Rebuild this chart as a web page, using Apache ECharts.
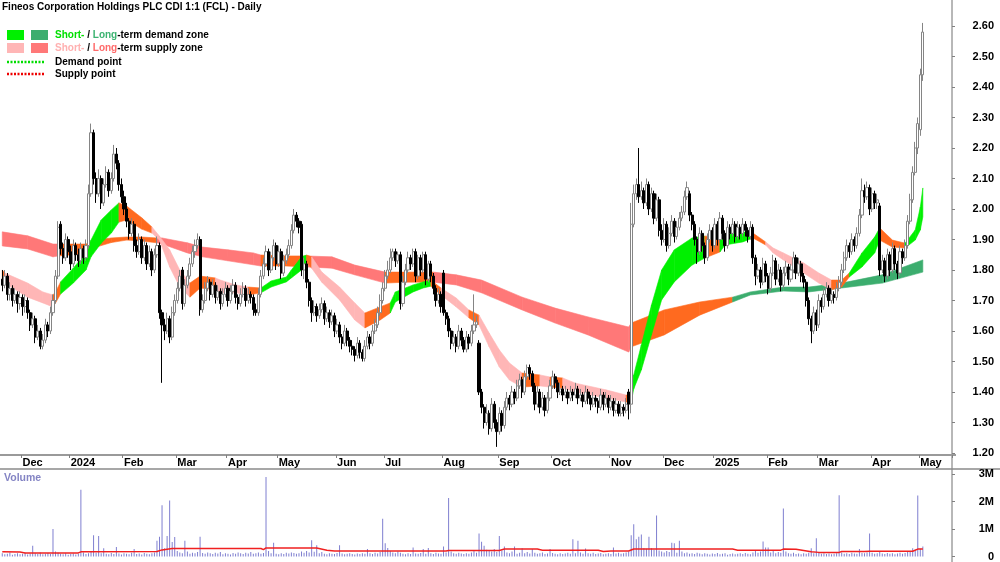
<!DOCTYPE html>
<html><head><meta charset="utf-8">
<script src="https://cdn.jsdelivr.net/npm/echarts@6/dist/echarts.min.js"></script>
<style>html,body{margin:0;padding:0;background:#fff}#c{width:1000px;height:562px}</style>
</head><body><div id="c"></div>
<script>
// ---------- axis / category data ----------
const totalSlots = 375;
const monthLabels = ['Dec','2024','Feb','Mar','Apr','May','Jun','Jul','Aug','Sep','Oct','Nov','Dec','2025','Feb','Mar','Apr','May'];
const monthStart = [8,27,48,69,89,109,132,151,174,196,217,240,261,281,302,322,343,362];
const priceTicks = [1.2,1.3,1.4,1.5,1.6,1.7,1.8,1.9,2.0,2.1,2.2,2.3,2.4,2.5,2.6];

// ---------- daily prices ----------
const openP = [
1.77,1.75,1.78,1.72,1.74,1.70,1.72,1.69,1.71,1.68,
1.70,1.66,1.62,1.64,1.58,1.60,1.55,1.57,1.62,1.60,
1.66,1.70,1.78,1.95,1.87,1.84,1.90,1.86,1.82,1.88,
1.85,1.83,1.87,1.84,1.88,2.05,2.25,2.10,2.05,2.10,
2.02,2.08,2.12,2.06,2.10,2.18,2.15,2.08,2.04,2.00,
1.96,1.92,1.95,1.88,1.86,1.90,1.84,1.88,1.82,1.86,
1.80,1.85,1.88,1.66,1.62,1.60,1.64,1.58,1.66,1.70,
1.74,1.80,1.69,1.75,1.78,1.82,1.86,1.88,1.90,1.67,
1.70,1.74,1.76,1.72,1.75,1.71,1.73,1.69,1.72,1.74,
1.70,1.73,1.75,1.71,1.69,1.72,1.74,1.70,1.72,1.71,
1.67,1.66,1.72,1.78,1.82,1.86,1.80,1.84,1.88,1.82,
1.86,1.79,1.83,1.85,1.88,1.93,1.98,1.96,1.95,1.80,
1.82,1.76,1.70,1.66,1.68,1.65,1.67,1.69,1.64,1.66,
1.63,1.65,1.60,1.62,1.58,1.56,1.60,1.57,1.55,1.54,
1.52,1.56,1.53,1.51,1.55,1.58,1.56,1.60,1.62,1.66,
1.70,1.74,1.78,1.80,1.84,1.86,1.83,1.85,1.69,1.76,
1.80,1.84,1.82,1.86,1.78,1.84,1.80,1.85,1.77,1.82,
1.78,1.74,1.70,1.72,1.79,1.66,1.64,1.60,1.56,1.58,
1.55,1.60,1.57,1.54,1.58,1.56,1.60,1.62,1.56,1.40,
1.35,1.30,1.33,1.28,1.36,1.30,1.27,1.33,1.29,1.35,
1.38,1.36,1.40,1.38,1.42,1.44,1.40,1.45,1.48,1.46,
1.42,1.36,1.40,1.35,1.38,1.34,1.38,1.42,1.45,1.43,
1.40,1.41,1.39,1.40,1.38,1.40,1.39,1.41,1.38,1.39,
1.37,1.40,1.38,1.36,1.38,1.37,1.35,1.39,1.36,1.38,
1.35,1.37,1.34,1.36,1.33,1.35,1.34,1.40,1.36,1.95,
2.05,2.08,2.04,2.06,2.02,2.08,2.00,2.05,1.97,2.03,
1.93,1.90,1.95,1.88,1.92,1.96,1.91,1.94,1.97,1.99,
2.04,2.05,1.98,1.95,1.90,1.86,1.92,1.88,1.84,1.90,
1.93,1.88,1.95,1.90,1.97,1.92,1.88,1.94,1.92,1.95,
1.91,1.94,1.92,1.95,1.93,1.91,1.94,1.84,1.78,1.80,
1.76,1.82,1.78,1.74,1.79,1.83,1.77,1.80,1.75,1.79,
1.81,1.77,1.80,1.84,1.79,1.82,1.78,1.76,1.70,1.64,
1.60,1.66,1.62,1.70,1.68,1.72,1.74,1.70,1.72,1.71,
1.74,1.76,1.80,1.84,1.88,1.86,1.90,1.88,1.92,1.98,
2.06,2.04,2.07,2.00,2.05,2.02,2.01,1.80,1.83,1.78,
1.85,1.80,1.87,1.82,1.79,1.86,1.84,1.88,1.96,2.03,
2.12,2.20,2.26,2.44];
const highP = [
1.80,1.80,1.79,1.76,1.75,1.74,1.73,1.73,1.72,1.72,
1.71,1.67,1.66,1.65,1.62,1.61,1.59,1.64,1.63,1.68,
1.72,1.80,1.96,1.96,1.89,1.92,1.91,1.88,1.90,1.89,
1.87,1.89,1.88,1.90,2.08,2.28,2.26,2.12,2.13,2.11,
2.10,2.14,2.13,2.12,2.21,2.20,2.16,2.10,2.06,2.02,
1.97,1.97,1.96,1.90,1.92,1.91,1.90,1.89,1.88,1.87,
1.87,1.91,1.89,1.67,1.64,1.66,1.65,1.68,1.72,1.76,
1.80,1.81,1.77,1.80,1.84,1.88,1.90,1.92,1.91,1.72,
1.76,1.78,1.77,1.77,1.76,1.75,1.74,1.74,1.76,1.75,
1.75,1.77,1.76,1.72,1.74,1.76,1.75,1.74,1.73,1.72,
1.69,1.74,1.80,1.84,1.88,1.87,1.86,1.90,1.89,1.88,
1.87,1.85,1.87,1.90,1.95,2.00,1.99,1.97,1.96,1.84,
1.83,1.77,1.71,1.70,1.69,1.69,1.71,1.70,1.68,1.67,
1.67,1.66,1.64,1.63,1.59,1.62,1.61,1.58,1.57,1.55,
1.58,1.57,1.54,1.57,1.60,1.59,1.62,1.64,1.68,1.72,
1.76,1.80,1.83,1.87,1.87,1.87,1.86,1.86,1.78,1.82,
1.86,1.85,1.87,1.87,1.85,1.85,1.86,1.86,1.83,1.83,
1.79,1.75,1.74,1.73,1.80,1.67,1.65,1.61,1.60,1.59,
1.62,1.61,1.58,1.60,1.59,1.62,1.72,1.65,1.57,1.41,
1.36,1.36,1.34,1.38,1.37,1.31,1.35,1.34,1.37,1.40,
1.39,1.42,1.41,1.44,1.46,1.45,1.47,1.49,1.49,1.47,
1.43,1.42,1.41,1.40,1.39,1.40,1.44,1.47,1.46,1.44,
1.43,1.42,1.42,1.41,1.42,1.41,1.43,1.42,1.41,1.40,
1.42,1.41,1.39,1.40,1.39,1.38,1.41,1.40,1.40,1.39,
1.39,1.38,1.38,1.37,1.37,1.36,1.38,1.41,2.02,2.08,
2.10,2.20,2.09,2.07,2.10,2.09,2.07,2.06,2.05,2.04,
1.95,1.97,1.96,1.94,1.98,1.97,1.96,1.99,2.01,2.06,
2.09,2.06,1.99,1.96,1.91,1.94,1.93,1.89,1.92,1.95,
1.94,1.97,1.96,1.99,1.98,1.93,1.96,1.95,1.97,1.96,
1.96,1.95,1.97,1.96,1.94,1.96,1.95,1.85,1.82,1.81,
1.84,1.83,1.79,1.81,1.85,1.84,1.82,1.81,1.81,1.83,
1.82,1.82,1.86,1.85,1.84,1.83,1.79,1.77,1.71,1.65,
1.68,1.67,1.72,1.71,1.74,1.76,1.75,1.74,1.73,1.76,
1.78,1.82,1.86,1.90,1.89,1.92,1.91,1.94,2.00,2.10,
2.08,2.09,2.08,2.07,2.06,2.05,2.02,1.85,1.84,1.87,
1.86,1.89,1.88,1.83,1.88,1.87,1.90,1.98,2.05,2.14,
2.22,2.30,2.46,2.61];
const lowP = [
1.73,1.74,1.70,1.70,1.68,1.69,1.66,1.67,1.65,1.66,
1.64,1.60,1.61,1.56,1.57,1.54,1.54,1.56,1.58,1.59,
1.65,1.69,1.77,1.85,1.82,1.83,1.84,1.80,1.81,1.83,
1.81,1.82,1.82,1.83,1.87,2.04,2.08,2.02,2.04,2.00,
2.01,2.07,2.04,2.05,2.09,2.13,2.06,2.02,1.98,1.94,
1.90,1.91,1.86,1.84,1.85,1.82,1.83,1.80,1.81,1.78,
1.79,1.84,1.64,1.43,1.57,1.59,1.56,1.57,1.65,1.69,
1.73,1.67,1.68,1.74,1.77,1.81,1.84,1.87,1.65,1.66,
1.69,1.73,1.70,1.71,1.69,1.70,1.67,1.68,1.71,1.68,
1.69,1.72,1.69,1.67,1.68,1.71,1.68,1.69,1.69,1.65,
1.65,1.65,1.71,1.77,1.81,1.78,1.79,1.83,1.80,1.81,
1.77,1.78,1.82,1.84,1.87,1.92,1.94,1.92,1.78,1.77,
1.74,1.68,1.63,1.65,1.63,1.64,1.66,1.62,1.63,1.61,
1.62,1.58,1.59,1.56,1.54,1.55,1.55,1.53,1.52,1.50,
1.51,1.51,1.50,1.50,1.54,1.54,1.55,1.59,1.61,1.65,
1.69,1.73,1.77,1.79,1.83,1.81,1.82,1.67,1.68,1.75,
1.79,1.80,1.81,1.76,1.77,1.78,1.79,1.75,1.76,1.76,
1.72,1.68,1.69,1.66,1.65,1.62,1.58,1.54,1.55,1.53,
1.54,1.55,1.53,1.53,1.54,1.55,1.59,1.61,1.39,1.33,
1.28,1.29,1.26,1.27,1.28,1.22,1.26,1.27,1.28,1.34,
1.34,1.35,1.36,1.37,1.41,1.38,1.39,1.44,1.44,1.40,
1.34,1.35,1.33,1.34,1.32,1.33,1.37,1.41,1.41,1.38,
1.39,1.37,1.38,1.36,1.37,1.37,1.38,1.36,1.37,1.35,
1.36,1.36,1.34,1.35,1.35,1.33,1.34,1.34,1.35,1.33,
1.34,1.32,1.33,1.32,1.32,1.32,1.33,1.31,1.33,1.94,
2.03,2.02,2.03,2.00,2.01,1.98,1.99,1.95,1.96,1.91,
1.88,1.89,1.86,1.87,1.91,1.89,1.90,1.93,1.96,1.98,
2.03,1.96,1.93,1.88,1.82,1.85,1.86,1.82,1.83,1.89,
1.86,1.87,1.88,1.89,1.90,1.86,1.87,1.90,1.91,1.89,
1.90,1.90,1.91,1.91,1.89,1.90,1.82,1.75,1.77,1.74,
1.75,1.76,1.72,1.73,1.78,1.75,1.76,1.73,1.74,1.78,
1.75,1.76,1.79,1.77,1.78,1.76,1.74,1.68,1.62,1.56,
1.59,1.60,1.61,1.66,1.67,1.71,1.68,1.69,1.69,1.70,
1.73,1.75,1.79,1.83,1.84,1.85,1.86,1.87,1.91,1.97,
2.02,2.03,1.98,1.99,2.00,2.00,1.78,1.79,1.76,1.77,
1.78,1.79,1.80,1.77,1.78,1.82,1.83,1.87,1.95,2.02,
2.11,2.18,2.24,2.42];
const closeP = [
1.75,1.78,1.72,1.74,1.70,1.72,1.69,1.71,1.68,1.70,
1.66,1.62,1.64,1.58,1.60,1.55,1.57,1.62,1.60,1.66,
1.70,1.78,1.94,1.87,1.84,1.90,1.86,1.82,1.88,1.85,
1.83,1.87,1.84,1.88,2.05,2.25,2.10,2.05,2.10,2.02,
2.08,2.12,2.06,2.10,2.18,2.15,2.08,2.04,2.00,1.96,
1.92,1.95,1.88,1.86,1.90,1.84,1.88,1.82,1.86,1.80,
1.85,1.88,1.66,1.62,1.60,1.64,1.58,1.66,1.70,1.74,
1.78,1.69,1.75,1.78,1.82,1.86,1.88,1.90,1.67,1.70,
1.74,1.76,1.72,1.75,1.71,1.73,1.69,1.72,1.74,1.70,
1.73,1.75,1.71,1.69,1.72,1.74,1.70,1.72,1.71,1.67,
1.66,1.72,1.78,1.82,1.86,1.80,1.84,1.88,1.82,1.86,
1.79,1.83,1.85,1.88,1.93,1.98,1.96,1.94,1.80,1.82,
1.76,1.70,1.66,1.68,1.65,1.67,1.69,1.64,1.66,1.63,
1.65,1.60,1.62,1.58,1.56,1.60,1.57,1.55,1.54,1.52,
1.56,1.53,1.51,1.55,1.58,1.56,1.60,1.62,1.66,1.70,
1.74,1.78,1.80,1.84,1.86,1.83,1.85,1.69,1.76,1.80,
1.84,1.82,1.86,1.78,1.84,1.80,1.85,1.77,1.82,1.78,
1.74,1.70,1.72,1.68,1.66,1.64,1.60,1.56,1.58,1.55,
1.60,1.57,1.54,1.58,1.56,1.60,1.62,1.63,1.40,1.35,
1.30,1.33,1.28,1.36,1.30,1.27,1.33,1.29,1.35,1.38,
1.36,1.40,1.38,1.42,1.44,1.40,1.45,1.48,1.46,1.42,
1.36,1.40,1.35,1.38,1.34,1.38,1.42,1.45,1.43,1.40,
1.41,1.39,1.40,1.38,1.40,1.39,1.41,1.38,1.39,1.37,
1.40,1.38,1.36,1.38,1.37,1.35,1.39,1.36,1.38,1.35,
1.37,1.34,1.36,1.33,1.35,1.34,1.36,1.36,1.95,2.05,
2.08,2.04,2.06,2.02,2.08,2.00,2.05,1.97,2.03,1.93,
1.90,1.95,1.88,1.92,1.96,1.91,1.94,1.97,1.99,2.04,
2.07,1.98,1.95,1.90,1.86,1.92,1.88,1.84,1.90,1.93,
1.88,1.95,1.90,1.97,1.92,1.88,1.94,1.92,1.95,1.91,
1.94,1.92,1.95,1.93,1.91,1.94,1.84,1.78,1.80,1.76,
1.82,1.78,1.74,1.79,1.83,1.77,1.80,1.75,1.79,1.81,
1.77,1.80,1.84,1.79,1.82,1.78,1.76,1.70,1.64,1.60,
1.66,1.62,1.70,1.68,1.72,1.74,1.70,1.72,1.71,1.74,
1.76,1.80,1.84,1.88,1.86,1.90,1.88,1.92,1.98,2.06,
2.04,2.07,2.00,2.05,2.02,2.03,1.80,1.83,1.78,1.85,
1.80,1.87,1.82,1.79,1.86,1.84,1.88,1.96,2.03,2.12,
2.20,2.28,2.44,2.58];

// ---------- volume (millions) ----------
const volM = [
0.12,0.08,0.10,0.15,0.06,0.09,0.12,0.08,0.10,0.14,
0.07,0.11,0.39,0.12,0.09,0.15,0.08,0.10,0.13,0.09,
1.00,0.18,0.14,0.10,0.08,0.12,0.06,0.09,0.11,0.07,
0.10,2.43,0.15,0.09,0.12,0.18,0.77,0.14,0.75,0.12,
0.30,0.10,0.08,0.13,0.09,0.35,0.11,0.07,0.12,0.10,
0.08,0.14,0.27,0.09,0.11,0.07,0.13,0.10,0.08,0.12,
0.15,0.57,0.72,1.86,0.30,0.75,2.04,0.53,0.71,0.20,
0.15,0.12,0.57,0.18,0.10,0.14,0.12,0.16,0.72,0.13,
0.10,0.15,0.12,0.09,0.14,0.11,0.16,0.08,0.12,0.10,
0.07,0.13,0.10,0.15,0.12,0.09,0.14,0.11,0.16,0.10,
0.12,0.15,0.10,0.13,2.89,0.20,0.12,0.50,0.10,0.08,
0.12,0.09,0.14,0.11,0.15,0.13,0.10,0.12,0.18,0.14,
0.20,0.15,0.59,0.17,0.41,0.12,0.16,0.10,0.08,0.12,
0.10,0.09,0.13,0.41,0.11,0.08,0.10,0.12,0.09,0.07,
0.11,0.09,0.12,0.10,0.27,0.12,0.09,0.14,0.11,0.16,
1.37,0.48,0.31,0.20,0.15,0.12,0.18,0.14,0.10,0.08,
0.12,0.09,0.33,0.11,0.10,0.13,0.27,0.10,0.31,0.12,
0.09,0.14,0.11,0.10,0.36,0.15,2.13,0.18,0.12,0.10,
0.14,0.11,0.09,0.12,0.10,0.15,0.20,0.14,0.84,0.54,
0.39,0.25,0.20,0.18,0.27,0.16,0.75,0.22,0.36,0.15,
0.12,0.18,0.36,0.10,0.14,0.30,0.12,0.16,0.11,0.27,
0.14,0.10,0.12,0.15,0.09,0.11,0.27,0.13,0.10,0.08,
0.12,0.09,0.11,0.14,0.10,0.63,0.12,0.57,0.15,0.10,
0.29,0.12,0.10,0.14,0.09,0.11,0.13,0.08,0.10,0.12,
0.09,0.33,0.11,0.14,0.10,0.12,0.15,0.18,0.77,1.17,
0.63,0.72,0.80,0.30,0.28,0.72,0.30,0.25,1.49,0.22,
0.18,0.15,0.20,0.16,0.50,0.48,0.14,0.57,0.18,0.12,
0.15,0.10,0.12,0.09,0.14,0.11,0.08,0.12,0.10,0.07,
0.11,0.09,0.13,0.08,0.10,0.12,0.06,0.09,0.11,0.08,
0.10,0.12,0.09,0.13,0.10,0.08,0.15,0.20,0.14,0.18,
0.55,0.33,0.33,0.15,0.20,0.12,0.16,0.14,1.75,0.18,
0.12,0.10,0.14,0.09,0.11,0.08,0.12,0.10,0.14,0.30,
0.12,0.66,0.15,0.10,0.12,0.09,0.11,0.08,0.10,0.12,
2.23,0.15,0.10,0.12,0.09,0.14,0.11,0.10,0.27,0.13,
0.12,0.15,0.84,0.14,0.10,0.12,0.18,0.11,0.09,0.13,
0.10,0.12,0.08,0.11,0.14,0.10,0.13,0.16,0.20,0.30,
0.25,2.22,0.28,0.36];
const volMaIdx = [0,7,9,30,31,61,63,67,102,103,104,124,128,131,175,176,196,198,211,213,235,237,240,247,249,288,290,307,308,313,319,322,330,331,340,342,359,361,363];
const volMaVal = [0.17,0.16,0.13,0.13,0.17,0.18,0.24,0.29,0.29,0.25,0.31,0.31,0.23,0.20,0.20,0.22,0.22,0.27,0.27,0.23,0.23,0.18,0.20,0.20,0.27,0.27,0.23,0.23,0.27,0.26,0.17,0.15,0.15,0.18,0.18,0.19,0.19,0.27,0.27];

// ---------- zones (0 ST demand, 1 LT demand, 2 ST supply, 3 LT supply, 4 mixed) ----------
const ltIdx = [0,10,20,22,30,33,37,43,49,55,61,63,73,79,89,99,102,112,120,130,139,151,159,170,179,189,205,218,231,247,248,261,275,288,295,308,318,331,347,363];
const ltUp  = [1.925,1.912,1.885,1.885,1.885,1.885,1.898,1.905,1.908,1.908,1.905,1.905,1.889,1.875,1.866,1.856,1.849,1.846,1.846,1.843,1.816,1.793,1.793,1.793,1.784,1.767,1.711,1.675,1.646,1.613,1.626,1.669,1.695,1.711,1.728,1.744,1.744,1.757,1.784,1.833];
const ltLo  = [1.879,1.869,1.843,1.846,1.852,1.859,1.875,1.890,1.898,1.895,1.889,1.885,1.856,1.843,1.830,1.817,1.813,1.813,1.810,1.806,1.784,1.757,1.760,1.760,1.751,1.725,1.669,1.626,1.587,1.531,1.548,1.587,1.652,1.695,1.718,1.731,1.728,1.741,1.757,1.793];
const ltState = [3,3,3,4,4,4,4,4,4,4,3,3,3,3,3,3,4,4,3,3,3,4,4,3,3,3,3,3,3,3,4,4,4,1,1,1,1,1,1,1];

const stIdx = [0,1,10,16,20,21,23,28,33,35,39,43,46,49,55,59,62,66,70,74,78,84,86,92,97,102,106,112,114,118,120,122,126,133,139,143,149,153,155,162,166,169,173,179,184,188,192,196,200,205,212,216,221,226,238,246,248,249,252,256,260,265,272,277,283,285,292,296,301,304,308,316,322,327,331,334,339,344,346,351,356,360,362,363];
const stUp  = [1.800,1.790,1.757,1.728,1.718,1.728,1.761,1.806,1.856,1.898,1.964,1.997,2.020,2.010,1.971,1.941,1.911,1.866,1.800,1.757,1.780,1.774,1.767,1.751,1.744,1.741,1.764,1.777,1.800,1.843,1.849,1.843,1.793,1.744,1.692,1.659,1.679,1.692,1.728,1.751,1.761,1.767,1.741,1.708,1.669,1.652,1.593,1.538,1.495,1.462,1.456,1.449,1.446,1.429,1.407,1.390,1.390,1.456,1.554,1.685,1.800,1.866,1.905,1.911,1.911,1.915,1.925,1.921,1.892,1.872,1.856,1.823,1.790,1.767,1.767,1.790,1.856,1.908,1.938,1.898,1.888,1.931,2.006,2.069];
const stLo  = [1.767,1.757,1.711,1.692,1.679,1.692,1.721,1.757,1.800,1.843,1.888,1.921,1.957,1.964,1.934,1.921,1.898,1.810,1.744,1.711,1.741,1.735,1.725,1.725,1.718,1.725,1.744,1.761,1.774,1.800,1.826,1.806,1.760,1.702,1.636,1.610,1.636,1.659,1.695,1.728,1.741,1.747,1.718,1.679,1.643,1.620,1.548,1.482,1.439,1.416,1.420,1.416,1.413,1.400,1.380,1.367,1.367,1.410,1.472,1.587,1.702,1.761,1.816,1.839,1.859,1.882,1.892,1.905,1.882,1.856,1.833,1.790,1.757,1.735,1.744,1.777,1.810,1.856,1.898,1.875,1.872,1.898,1.931,1.974];
const stState = [4,2,2,2,4,4,0,0,0,0,0,0,4,4,4,2,2,2,2,4,4,2,2,2,4,0,0,0,0,0,4,2,2,2,2,4,4,0,0,0,0,4,2,2,4,2,2,2,2,4,2,4,2,2,2,4,0,0,0,0,0,0,0,4,0,0,0,4,2,2,2,2,2,4,4,0,0,0,4,4,0,0,0,0];

const zoneColors = ['#00f000','#3cad6e','#ffb6b6','#ff7878','#ff6a1f'];
const FONT = '"Liberation Sans", Arial, sans-serif';

// ---------- build ----------
const cats = [];
for (let i = 0; i < totalSlots; i++) cats.push(String(i));
const monthAt = {};
monthStart.forEach((s, k) => { monthAt[s] = monthLabels[k]; });
const isMonth = (i) => monthAt[i] !== undefined;

const candles = openP.map((o, i) => [o, closeP[i], lowP[i], highP[i]]);
const volMa = volMaIdx.map((x, k) => [x, volMaVal[k]]);

function segs(idx, up, lo, st) {
  const out = [];
  for (let k = 0; k < idx.length - 1; k++) out.push([idx[k], up[k], lo[k], idx[k + 1], up[k + 1], lo[k + 1], st[k]]);
  return out;
}
function renderZone(params, api) {
  const a0 = api.coord([api.value(0), api.value(1)]);
  const a1 = api.coord([api.value(0), api.value(2)]);
  const b0 = api.coord([api.value(3), api.value(4)]);
  const b1 = api.coord([api.value(3), api.value(5)]);
  const c = zoneColors[api.value(6)];
  return { type: 'polygon', shape: { points: [a0, b0, b1, a1] }, style: { fill: c, stroke: c, lineWidth: 0.6 } };
}

const chart = echarts.init(document.getElementById('c'), null, { renderer: 'canvas' });
const boldTxt = { fontFamily: FONT, fontWeight: 'bold', fontSize: 11, color: '#000' };

chart.setOption({
  animation: false,
  backgroundColor: '#ffffff',
  grid: [
    { left: 1, right: 48, top: 0, height: 455 },
    { left: 1, right: 48, top: 474, height: 83 }
  ],
  xAxis: [
    { type: 'category', gridIndex: 0, data: cats, boundaryGap: true,
      axisLine: { show: false },
      axisTick: { show: true, interval: (i) => isMonth(i), length: 3, lineStyle: { color: '#808080' } },
      axisLabel: Object.assign({ interval: (i) => isMonth(i), formatter: (v, i) => monthAt[i] || '', align: 'left', margin: 2 }, boldTxt),
      splitLine: { show: false } },
    { type: 'category', gridIndex: 1, data: cats, boundaryGap: true,
      axisLine: { show: false }, axisTick: { show: false }, axisLabel: { show: false }, splitLine: { show: false } }
  ],
  yAxis: [
    { type: 'value', gridIndex: 0, position: 'right', min: 1.1934, max: 2.6852, scale: true,
      axisLine: { show: false }, splitLine: { show: false },
      axisTick: { show: true, customValues: priceTicks, length: 3, lineStyle: { color: '#808080' } },
      axisLabel: Object.assign({ customValues: priceTicks, formatter: (v) => v.toFixed(2), align: 'right', margin: 42 }, boldTxt) },
    { type: 'value', gridIndex: 1, position: 'right', min: 0, max: 3, interval: 1,
      axisLine: { show: false }, splitLine: { show: false },
      axisTick: { show: true, length: 3, lineStyle: { color: '#808080' } },
      axisLabel: Object.assign({ formatter: (v) => v === 0 ? '0' : v + 'M', align: 'right', margin: 42 }, boldTxt) }
  ],
  series: [
    { type: 'custom', name: 'long', xAxisIndex: 0, yAxisIndex: 0, z: 1, renderItem: renderZone,
      encode: { x: [0, 3], y: [1, 2, 4, 5] }, data: segs(ltIdx, ltUp, ltLo, ltState), silent: true },
    { type: 'custom', name: 'short', xAxisIndex: 0, yAxisIndex: 0, z: 2, renderItem: renderZone,
      encode: { x: [0, 3], y: [1, 2, 4, 5] }, data: segs(stIdx, stUp, stLo, stState), silent: true },
    { type: 'candlestick', xAxisIndex: 0, yAxisIndex: 0, z: 3, barWidth: 2.6, data: candles,
      itemStyle: { color: '#ffffff', color0: '#000000', borderColor: '#858585', borderColor0: '#000000', borderWidth: 1 } },
    { type: 'bar', xAxisIndex: 1, yAxisIndex: 1, barWidth: 1, data: volM, itemStyle: { color: '#7f7fd0' }, silent: true },
    { type: 'line', xAxisIndex: 1, yAxisIndex: 1, data: volMa, showSymbol: false, symbol: 'none',
      lineStyle: { color: '#f02020', width: 1.5 }, z: 5, silent: true }
  ],
  graphic: [
    { type: 'line', silent: true, shape: { x1: 952, y1: 0, x2: 952, y2: 562 }, style: { stroke: '#707070', lineWidth: 1 } },
    { type: 'line', silent: true, shape: { x1: 0, y1: 455, x2: 956, y2: 455 }, style: { stroke: '#9a9a9a', lineWidth: 2 } },
    { type: 'line', silent: true, shape: { x1: 0, y1: 469, x2: 1000, y2: 469 }, style: { stroke: '#8a8a8a', lineWidth: 1.5 } },
    { type: 'text', silent: true, x: 2, y: 7, style: { text: 'Fineos Corporation Holdings PLC CDI 1:1 (FCL) - Daily', font: 'bold 10px ' + FONT, fill: '#000', verticalAlign: 'middle' } },
    { type: 'rect', silent: true, shape: { x: 7, y: 30, width: 17, height: 10 }, style: { fill: zoneColors[0] } },
    { type: 'rect', silent: true, shape: { x: 31, y: 30, width: 17, height: 10 }, style: { fill: zoneColors[1] } },
    { type: 'rect', silent: true, shape: { x: 7, y: 43, width: 17, height: 10 }, style: { fill: zoneColors[2] } },
    { type: 'rect', silent: true, shape: { x: 31, y: 43, width: 17, height: 10 }, style: { fill: zoneColors[3] } },
    { type: 'text', silent: true, x: 55, y: 35, style: { text: '{a|Short-} / {b|Long}-term demand zone', font: 'bold 10px ' + FONT, fill: '#000', verticalAlign: 'middle',
      rich: { a: { fill: '#00e000', font: 'bold 10px ' + FONT }, b: { fill: '#3cb371', font: 'bold 10px ' + FONT } } } },
    { type: 'text', silent: true, x: 55, y: 48, style: { text: '{a|Short-} / {b|Long}-term supply zone', font: 'bold 10px ' + FONT, fill: '#000', verticalAlign: 'middle',
      rich: { a: { fill: '#ffb0b0', font: 'bold 10px ' + FONT }, b: { fill: '#ff6a6a', font: 'bold 10px ' + FONT } } } },
    { type: 'line', silent: true, shape: { x1: 7, y1: 62, x2: 45, y2: 62 }, style: { stroke: '#00dd00', lineWidth: 2.5, lineDash: [2, 1.5] } },
    { type: 'text', silent: true, x: 55, y: 62, style: { text: 'Demand point', font: 'bold 10px ' + FONT, fill: '#000', verticalAlign: 'middle' } },
    { type: 'line', silent: true, shape: { x1: 7, y1: 74, x2: 45, y2: 74 }, style: { stroke: '#ee0000', lineWidth: 2.5, lineDash: [2, 1.5] } },
    { type: 'text', silent: true, x: 55, y: 74, style: { text: 'Supply point', font: 'bold 10px ' + FONT, fill: '#000', verticalAlign: 'middle' } },
    { type: 'text', silent: true, x: 4, y: 478, style: { text: 'Volume', font: 'bold 10.5px ' + FONT, fill: '#8484c4', verticalAlign: 'middle' } }
  ]
});
</script>
</body></html>
